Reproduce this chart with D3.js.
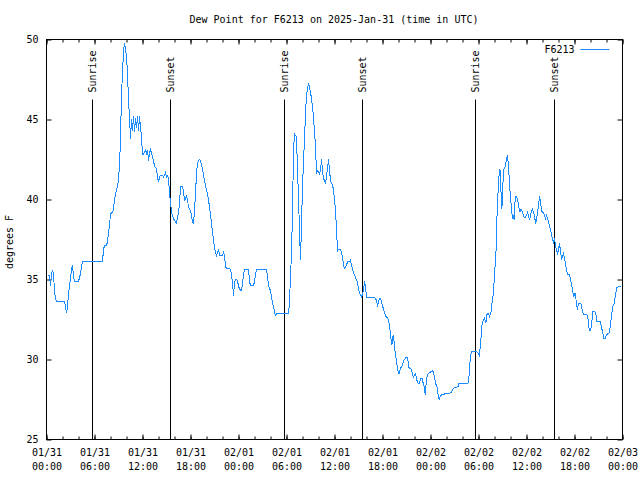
<!DOCTYPE html>
<html><head><meta charset="utf-8">
<script src="https://cdn.jsdelivr.net/npm/d3@7"></script>
<style>
html,body{margin:0;padding:0;background:#fff;}
svg text{font-family:"DejaVu Sans Mono","Liberation Mono",monospace;font-size:10px;fill:#000;}
</style></head>
<body>
<svg id="chart" width="640" height="480"></svg>
<script>
// ---- data (hours after 2025-01-31 00:00 UTC, dew point °F) ----
const hours = [0.25,0.38,0.5,0.63,0.75,0.88,1.0,1.13,1.25,2.25,2.38,2.5,2.63,2.75,2.88,3.0,3.13,3.25,3.38,3.5,4.0,4.13,4.25,4.38,4.5,
7.0,7.13,7.25,7.5,7.63,7.75,7.88,8.0,8.25,8.38,8.5,8.63,8.75,8.88,9.0,9.13,9.25,9.38,9.5,9.63,9.75,9.88,10.0,10.13,10.25,10.38,10.5,
10.63,10.75,10.88,11.0,11.13,11.25,11.38,11.5,11.63,11.75,11.88,12.0,12.13,12.25,12.38,12.5,12.63,12.75,12.88,13.0,13.13,13.25,13.38,
13.5,13.63,13.75,13.88,14.0,14.13,14.25,14.5,14.63,14.75,14.88,15.0,15.13,15.25,15.38,15.5,15.63,15.75,15.88,16.0,16.13,16.25,16.38,
16.5,16.63,16.75,17.0,17.13,17.25,17.38,17.5,17.63,17.75,17.88,18.0,18.13,18.25,18.38,18.5,18.63,18.75,18.88,19.13,19.25,19.38,19.5,
19.63,19.75,19.88,20.0,20.13,20.25,20.38,20.5,20.63,20.75,20.88,21.0,21.13,21.25,21.38,21.5,21.63,22.0,22.13,22.25,22.38,22.5,22.88,
23.0,23.13,23.25,23.38,23.5,23.63,23.75,23.88,24.0,24.13,24.38,24.5,24.63,24.75,25.25,25.38,25.5,25.88,26.0,26.13,26.25,27.5,27.63,
27.75,28.0,28.13,28.25,28.38,28.5,28.63,28.75,30.25,30.38,30.5,30.63,30.75,30.88,31.0,31.13,31.25,31.38,31.5,31.63,31.75,31.88,32.0,
32.13,32.25,32.38,32.5,32.63,32.75,32.88,33.0,33.13,33.25,33.38,33.5,33.63,33.75,33.88,34.0,34.13,34.25,34.38,34.5,34.63,34.75,34.88,
35.0,35.13,35.25,35.38,35.5,35.63,35.75,35.88,36.0,36.13,36.25,36.38,36.5,36.75,36.88,37.0,37.13,37.25,37.5,37.63,37.88,38.0,38.13,
38.25,38.38,38.5,38.63,38.75,38.88,39.0,39.13,39.25,39.38,39.5,39.63,39.75,39.88,40.0,41.0,41.13,41.25,41.38,41.63,41.75,41.93,42.09,
42.25,42.43,42.59,42.75,42.93,43.05,43.18,43.25,43.38,43.5,43.63,43.75,43.88,44.05,44.21,44.43,44.63,44.88,45.13,45.3,45.55,45.71,
45.84,45.96,46.13,46.3,46.46,46.63,46.75,46.96,47.09,47.21,47.34,47.46,47.59,47.71,47.96,48.21,48.38,48.5,48.63,48.8,48.96,49.09,
49.21,49.43,49.63,49.88,50.46,50.68,50.88,51.43,51.55,51.93,52.68,52.8,52.93,53.05,53.18,53.8,53.93,54.13,54.21,54.34,54.46,54.63,
54.75,54.93,55.05,55.21,55.38,55.55,55.71,55.88,56.0,56.13,56.21,56.3,56.43,56.55,56.68,56.75,56.84,56.93,57.0,57.09,57.18,57.3,
57.43,57.55,57.63,57.71,57.84,57.96,58.09,58.21,58.3,58.38,58.46,58.55,58.68,58.8,58.93,59.05,59.18,59.3,59.43,59.55,59.68,59.88,
60.0,60.13,60.25,60.38,60.5,60.63,60.75,60.88,61.0,61.13,61.25,61.38,61.5,61.63,61.75,61.88,62.0,62.13,62.25,62.38,62.5,62.63,62.75,
62.88,63.0,63.13,63.25,63.38,63.5,63.63,63.75,63.88,64.0,64.13,64.25,64.38,64.5,64.63,64.75,64.88,65.0,65.13,65.38,65.5,65.63,65.75,
65.88,66.0,66.13,66.25,66.38,66.5,66.8,66.96,67.13,67.55,67.68,67.8,67.93,68.05,68.18,68.3,68.55,68.68,68.8,69.21,69.43,69.55,69.68,
69.84,69.96,70.13,70.3,70.46,70.63,70.8,70.96,71.13,71.3,71.88];
const dewF = [35.3,35.2,34.6,35.3,35.6,35.3,34.3,33.8,33.6,33.6,33.3,32.9,33.3,34.1,34.6,35.1,35.6,35.9,35.2,34.9,34.9,35.1,35.4,35.8,36.1,
36.1,36.9,37.1,37.1,37.4,37.9,38.4,39.1,39.2,39.4,40.0,40.3,40.6,40.8,41.3,42.1,43.9,46.6,47.9,49.3,49.8,49.4,48.9,47.9,46.2,45.1,43.8,
45.0,44.3,45.2,44.2,45.1,44.5,45.2,44.3,45.2,44.5,43.9,42.8,42.8,43.0,43.1,42.9,43.1,42.4,42.9,43.1,42.9,42.7,42.4,
42.1,42.0,41.9,41.4,41.1,41.4,41.5,41.5,41.4,41.5,41.7,41.4,41.5,41.3,40.4,39.8,39.2,39.0,38.8,38.7,38.6,38.5,38.9,
39.2,39.8,40.8,40.8,40.5,39.9,40.1,40.2,40.0,39.5,39.4,39.3,39.0,38.6,38.5,39.3,40.4,41.6,42.3,42.5,42.4,42.2,41.9,
41.5,41.2,40.8,40.6,40.3,40.0,39.5,39.1,38.4,38.0,37.4,37.0,36.7,36.5,36.7,36.9,36.5,36.5,36.7,36.5,35.8,35.7,35.7,
35.6,35.3,34.8,34.0,34.8,35.0,35.0,34.9,34.6,34.4,34.3,34.8,35.3,35.6,35.6,34.9,34.6,34.6,34.9,35.3,35.6,35.6,35.2,
34.6,34.3,33.9,33.5,33.3,33.0,32.7,32.9,32.9,33.6,35.3,36.6,39.3,43.1,44.1,44.0,43.9,41.8,40.1,38.0,36.2,38.5,40.8,
42.4,43.8,45.4,46.5,46.9,47.3,47.0,46.7,46.3,45.8,45.1,44.2,43.3,41.6,41.8,41.7,41.6,41.8,42.5,41.8,41.3,41.2,41.0,
41.4,42.0,42.5,41.8,41.2,41.0,40.9,40.6,40.0,39.3,38.1,36.8,36.9,36.9,36.7,36.4,35.9,35.7,35.9,36.1,36.1,36.2,35.9,
35.7,35.4,35.3,35.1,35.0,34.8,34.4,34.2,34.0,33.9,34.1,34.3,34.9,34.5,33.9,33.9,33.8,33.7,33.4,33.8,33.8,33.5,33.2,
32.9,32.7,32.6,32.5,31.9,31.3,30.9,31.4,31.5,30.8,30.3,29.9,29.4,29.1,29.4,29.6,29.9,30.1,30.1,29.5,29.4,29.2,
28.9,29.0,29.1,28.7,28.5,28.5,28.8,28.8,28.5,28.3,27.8,28.5,29.0,29.1,29.2,29.3,29.2,28.9,28.5,28.3,27.8,27.5,
27.7,27.8,27.8,27.9,27.9,28.0,28.2,28.3,28.5,28.5,28.5,28.9,29.8,30.3,30.5,30.5,30.4,30.2,30.8,31.5,32.3,32.5,
32.6,32.3,32.8,32.9,32.7,32.9,33.6,34.2,35.4,36.2,37.0,38.8,40.3,41.4,41.9,41.3,40.1,39.4,40.6,41.3,41.9,42.0,
42.3,42.6,42.8,42.3,41.3,40.4,39.6,39.0,38.8,39.0,38.7,39.8,40.2,40.1,39.9,39.5,39.2,39.4,39.3,39.1,38.9,38.9,
39.0,39.2,39.0,38.7,39.0,39.3,39.4,39.2,39.0,38.5,38.7,39.2,39.6,40.2,39.9,39.3,39.2,39.2,39.0,38.8,39.0,38.8,38.6,
38.3,38.1,37.8,37.5,37.3,37.6,37.1,36.8,36.6,36.9,37.3,36.7,36.3,36.4,36.6,36.3,36.0,35.6,35.3,35.3,35.0,34.7,34.4,
33.9,34.1,34.1,33.4,33.2,33.5,33.5,33.1,32.8,32.8,32.6,32.0,31.8,31.9,32.4,33.0,33.0,32.8,32.4,32.4,31.9,31.6,31.3,
31.3,31.5,31.6,31.6,32.0,32.8,33.3,33.5,34.1,34.5,34.6];
const sunriseHours = [5.75, 29.75, 53.63];
const sunsetHours = [15.5, 39.5, 63.5];
const yTicks = [25, 30, 35, 40, 45, 50];
const titleText = "Dew Point for F6213 on 2025-Jan-31 (time in UTC)";
const yLabel = "degrees F";
const seriesName = "F6213";

// ---- layout ----
const W = 640, H = 480;
const m = {left: 46, top: 39, right: 18, bottom: 41};
const iw = 576, ih = 400;
const t0 = Date.UTC(2025, 0, 31);
const toDate = h => new Date(t0 + h * 3600e3);
const data = hours.map((h, i) => ({t: toDate(h), v: dewF[i]}));

const svg = d3.select("#chart");
const g = svg.append("g").attr("transform", `translate(${m.left + 0.5},${m.top + 0.5})`);

const x = d3.scaleUtc().domain([toDate(0), toDate(72)]).range([0, iw]);
const y = d3.scaleLinear().domain([25, 50]).range([ih, 0]);

// title
svg.append("text").attr("x", 334).attr("y", 23).attr("text-anchor", "middle").text(titleText);

// y label
svg.append("text").attr("transform", "translate(13,242) rotate(-90)")
  .attr("text-anchor", "middle").text(yLabel);

// axes
const fmtDay = d3.utcFormat("%m/%d"), fmtTime = d3.utcFormat("%H:%M");
const bottom = g.append("g").attr("transform", `translate(0,${ih})`)
  .call(d3.axisBottom(x).ticks(d3.utcHour.every(6)).tickSizeInner(-5).tickSizeOuter(0).tickPadding(9).tickFormat(() => ""));
bottom.selectAll(".tick text").each(function(d) {
  const t = d3.select(this);
  t.append("tspan").attr("x", 0).attr("dy", "0.71em").text(fmtDay(d));
  t.append("tspan").attr("x", 0).attr("dy", "14").text(fmtTime(d));
});
g.append("g").attr("transform", `translate(0,${ih})`)
  .call(d3.axisBottom(x).ticks(d3.utcHour.every(2)).tickSizeInner(-3).tickSizeOuter(0).tickFormat(() => ""));
g.append("g")
  .call(d3.axisTop(x).ticks(d3.utcHour.every(6)).tickSizeInner(-5).tickSizeOuter(0).tickFormat(() => ""));
g.append("g")
  .call(d3.axisTop(x).ticks(d3.utcHour.every(2)).tickSizeInner(-3).tickSizeOuter(0).tickFormat(() => ""));
g.append("g")
  .call(d3.axisLeft(y).tickValues(yTicks).tickSizeInner(-5).tickSizeOuter(0).tickPadding(8));
g.append("g").attr("transform", `translate(${iw},0)`)
  .call(d3.axisRight(y).tickValues(yTicks).tickSizeInner(-5).tickSizeOuter(0).tickFormat(() => ""));
g.selectAll(".domain").remove();
g.selectAll(".tick line").attr("stroke", "#000");
g.selectAll(".tick text").attr("fill", "#000").style("font-family", null).style("font-size", null);
g.selectAll("g").attr("font-family", null).attr("font-size", null);

// sunrise / sunset markers
const events = sunriseHours.map(h => ({h, label: "Sunrise"})).concat(sunsetHours.map(h => ({h, label: "Sunset"})));
g.selectAll(".evline").data(events).enter().append("line")
  .attr("x1", d => Math.round(x(toDate(d.h)))).attr("x2", d => Math.round(x(toDate(d.h))))
  .attr("y1", 60).attr("y2", ih).attr("stroke", "#000").attr("stroke-width", 1);
g.selectAll(".evlabel").data(events).enter().append("text")
  .attr("transform", d => `translate(${Math.round(x(toDate(d.h)))},53) rotate(-90)`)
  .attr("dy", "0.35em").attr("text-anchor", "start").text(d => d.label);

// series line
const line = d3.line().x(d => x(d.t)).y(d => y(d.v));
g.append("path").datum(data).attr("d", line)
  .attr("fill", "none").attr("stroke", "#1a8cff").attr("stroke-width", 1)
  .attr("shape-rendering", "crispEdges");

// legend
g.append("text").attr("x", 528).attr("y", 10).attr("dy", "0.35em").attr("text-anchor", "end").text(seriesName);
g.append("line").attr("x1", 534).attr("x2", 563).attr("y1", 10).attr("y2", 10)
  .attr("stroke", "#1a8cff").attr("stroke-width", 1);

// frame
g.append("rect").attr("x", 0).attr("y", 0).attr("width", iw).attr("height", ih)
  .attr("fill", "none").attr("stroke", "#000").attr("stroke-width", 1);
</script>
</body></html>
